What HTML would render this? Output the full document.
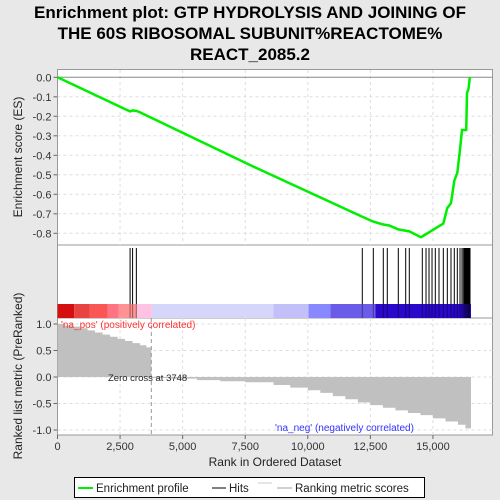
<!DOCTYPE html>
<html><head><meta charset="utf-8"><style>
body{margin:0;background:#e8e8e8;}
svg{display:block;font-family:"Liberation Sans",sans-serif;}
</style></head><body>
<svg id="c" width="500" height="500"></svg>
<script>
const esRanks=[0,2900,3000,3150,3300,7690,12177,12617,13016,13250,13616,14055,14520,14650,14843,15094,15414,15574,15721,15853,15973,16081,16161,16330,16360,16420,16470,16500];
const esValues=[0,-0.175,-0.17,-0.172,-0.18,-0.45,-0.715,-0.74,-0.755,-0.76,-0.78,-0.79,-0.82,-0.81,-0.795,-0.775,-0.75,-0.67,-0.645,-0.53,-0.49,-0.37,-0.27,-0.27,-0.08,-0.06,-0.005,0];
const hitRanks=[2900,3000,3150,12177,12617,13016,13176,13616,13911,14055,14575,14723,14843,14963,15094,15242,15414,15574,15721,15853,15973,16081,16161,16213,16260,16290,16320,16350,16380,16400,16420,16440,16460,16480];
const metricRanks=[0,300,600,900,1200,1500,1800,2100,2400,2700,3000,3300,3550,3748,4500,5570,6500,7500,8630,9300,10000,10500,11000,11500,12000,12500,13000,13500,14000,14500,15000,15500,16000,16300];
const metricValues=[1.0,0.97,0.95,0.92,0.88,0.84,0.8,0.76,0.72,0.68,0.64,0.6,0.56,-0.02,-0.03,-0.06,-0.08,-0.1,-0.15,-0.2,-0.25,-0.3,-0.36,-0.42,-0.48,-0.53,-0.58,-0.63,-0.68,-0.72,-0.78,-0.84,-0.9,-0.97];
const metricEnd=16520;
const esTicks=[0,-0.1,-0.2,-0.3,-0.4,-0.5,-0.6,-0.7,-0.8];
const metricTicks=[1.0,0.5,0.0,-0.5,-1.0];
const xTicks=[0,2500,5000,7500,10000,12500,15000];
const barStops=[0,670,1280,2000,2440,3170,3770,8630,10030,10900,12700,16520];
const barColors=['#d50f0f','#e94242','#fb5656','#ff7482','#ff9292','#ffc2e2','#d6d6fa','#c3bff8','#8888ff','#6a5ce8','#2a08cc'];

const NS='http://www.w3.org/2000/svg';
const svg=document.getElementById('c');
function el(t,a,p){const e=document.createElementNS(NS,t);for(const k in a)e.setAttribute(k,a[k]);(p||svg).appendChild(e);return e;}
const X0=57.5,XR=0.02503;
const x=r=>X0+r*XR;
const yES=v=>77.3-v*195;
const yM=v=>377-v*53;
const L=57.5,R=492.5;

let p=el('rect',{x:L,y:69.5,width:R-L,height:175.5,fill:'#fff',stroke:'#999'});

p=el('rect',{x:L,y:245,width:R-L,height:73,fill:'#fff',stroke:'#999'});

p=el('rect',{x:L,y:318,width:R-L,height:117,fill:'#fff',stroke:'#999'});


xTicks.forEach(t=>{
  if(t>0){el('line',{x1:x(t),x2:x(t),y1:70,y2:245,stroke:'#ddd','stroke-dasharray':'3,3'});
  el('line',{x1:x(t),x2:x(t),y1:318,y2:435,stroke:'#ddd','stroke-dasharray':'3,3'});}
  el('line',{x1:x(t),x2:x(t),y1:435,y2:439,stroke:'#666'});
  const tx=el('text',{x:x(t),y:450,'font-size':11,'text-anchor':'middle',fill:'#333'});
  tx.textContent=t.toLocaleString('en-US');
  
});
esTicks.forEach(t=>{
  el('line',{x1:L,x2:R,y1:yES(t),y2:yES(t),stroke:t===0?'#888':'#ddd','stroke-dasharray':t===0?'':'3,3'});
  el('line',{x1:L-4,x2:L,y1:yES(t),y2:yES(t),stroke:'#666'});
  const tx=el('text',{x:L-6,y:yES(t)+4,'font-size':11,'text-anchor':'end',fill:'#333'});
  tx.textContent=t.toFixed(1);
  
});
metricTicks.forEach(t=>{
  el('line',{x1:L,x2:R,y1:yM(t),y2:yM(t),stroke:'#ddd','stroke-dasharray':'3,3'});
  el('line',{x1:L-4,x2:L,y1:yM(t),y2:yM(t),stroke:'#666'});
  const tx=el('text',{x:L-6,y:yM(t)+4,'font-size':11,'text-anchor':'end',fill:'#333'});
  tx.textContent=t.toFixed(1);
  
});

for(let i=0;i<barColors.length;i++){
  const r=el('rect',{x:x(barStops[i]),y:304,width:x(barStops[i+1])-x(barStops[i]),height:14,fill:barColors[i]});
  
}
hitRanks.forEach(h=>{
  const l=el('line',{x1:x(h),x2:x(h),y1:248,y2:304,stroke:'#000','stroke-width':1});
  
  el('line',{x1:x(h),x2:x(h),y1:304,y2:318,stroke:'#000','stroke-opacity':0.4,'stroke-width':1});
});

let d='M'+x(0)+','+yM(0);
for(let i=0;i<metricRanks.length;i++){
  const xa=x(metricRanks[i]);
  const xb=x(i+1<metricRanks.length?metricRanks[i+1]:metricEnd);
  d+=' L'+xa+','+yM(metricValues[i])+' L'+xb+','+yM(metricValues[i]);
}
d+=' L'+x(metricEnd)+','+yM(-1.0)+' L'+x(metricEnd)+','+yM(0)+' Z';
p=el('path',{d:d,fill:'#c0c0c0'});

el('line',{x1:x(3748),x2:x(3748),y1:318,y2:435,stroke:'#999','stroke-dasharray':'4,3'});
let t=el('text',{x:108,y:381,'font-size':9.5,fill:'#222'});t.textContent='Zero cross at 3748';

t=el('text',{x:61,y:328,'font-size':10,fill:'#f33'});t.textContent="'na_pos' (positively correlated)";

t=el('text',{x:275,y:431,'font-size':10,fill:'#33f'});t.textContent="'na_neg' (negatively correlated)";


p=el('polyline',{points:esRanks.map((r,i)=>x(r)+','+yES(esValues[i])).join(' '),fill:'none',stroke:'#00ee00','stroke-width':2.5});


[['Enrichment plot: GTP HYDROLYSIS AND JOINING OF',18],['THE 60S RIBOSOMAL SUBUNIT%REACTOME%',39],['REACT_2085.2',60]].forEach(a=>{
  const tt=el('text',{x:250,y:a[1],'font-size':17,'font-weight':'bold','text-anchor':'middle',fill:'#000'});
  tt.textContent=a[0];
});
t=el('text',{x:0,y:0,'font-size':12,'text-anchor':'middle',fill:'#222',transform:'translate(22,157) rotate(-90)'});
t.textContent='Enrichment score (ES)';
t=el('text',{x:0,y:0,'font-size':12,'text-anchor':'middle',fill:'#222',transform:'translate(22,376) rotate(-90)'});
t.textContent='Ranked list metric (PreRanked)';
t=el('text',{x:275,y:466,'font-size':12,'text-anchor':'middle',fill:'#222'});
t.textContent='Rank in Ordered Dataset';

const g=el('g',{});
el('rect',{x:74.5,y:477.5,width:350,height:20,fill:'#fff',stroke:'#000'},g);
el('line',{x1:78,x2:93,y1:488,y2:488,stroke:'#00ee00','stroke-width':2},g);
t=el('text',{x:96,y:492,'font-size':11.5,fill:'#222'},g);t.textContent='Enrichment profile';

el('line',{x1:212,x2:226,y1:488,y2:488,stroke:'#000','stroke-width':1},g);
t=el('text',{x:229,y:492,'font-size':11.5,fill:'#222'},g);t.textContent='Hits';

el('line',{x1:258,x2:272,y1:483,y2:483,stroke:'#ccc'},g);
el('line',{x1:277,x2:292,y1:488,y2:488,stroke:'#c0c0c0','stroke-width':1.5},g);
t=el('text',{x:295,y:492,'font-size':11.5,fill:'#222'},g);t.textContent='Ranking metric scores';

</script>
</body></html>
